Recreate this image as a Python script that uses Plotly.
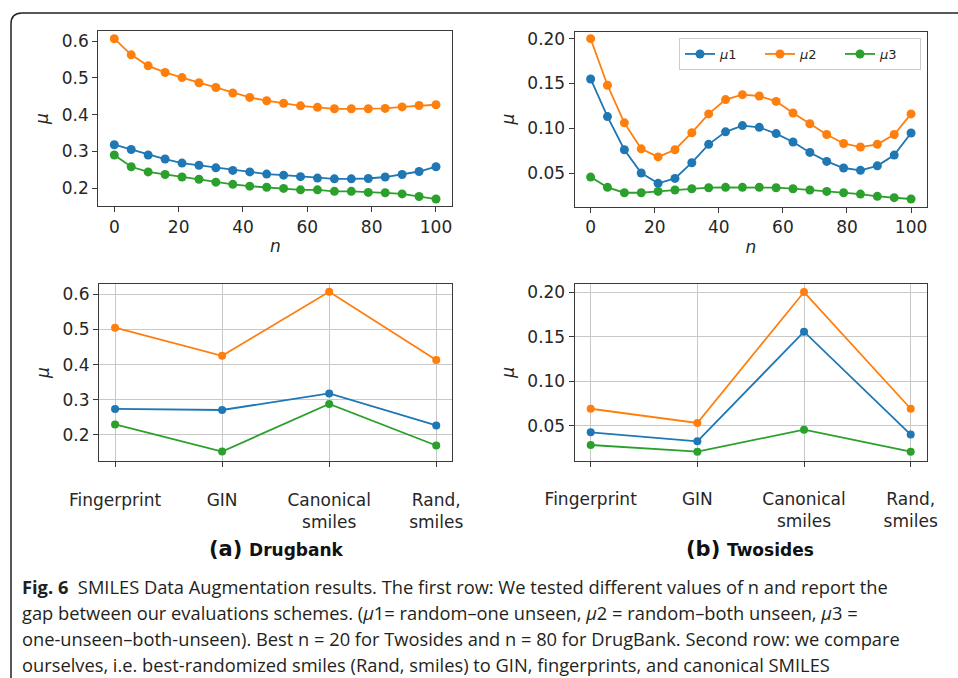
import plotly.graph_objects as go

# ---------------- data ----------------
n_vals = [0, 5.26, 10.53, 15.79, 21.05, 26.32, 31.58, 36.84, 42.11, 47.37,
          52.63, 57.89, 63.16, 68.42, 73.68, 78.95, 84.21, 89.47, 94.74, 100]

db_mu1 = [0.318, 0.305, 0.290, 0.279, 0.268, 0.262, 0.255, 0.248, 0.244, 0.238,
          0.235, 0.231, 0.227, 0.225, 0.225, 0.226, 0.230, 0.237, 0.245, 0.258]
db_mu2 = [0.607, 0.563, 0.533, 0.515, 0.501, 0.487, 0.474, 0.459, 0.447, 0.438,
          0.431, 0.424, 0.420, 0.416, 0.416, 0.416, 0.417, 0.421, 0.425, 0.427]
db_mu3 = [0.290, 0.258, 0.244, 0.237, 0.230, 0.224, 0.216, 0.210, 0.205, 0.202,
          0.199, 0.195, 0.195, 0.191, 0.191, 0.188, 0.187, 0.184, 0.177, 0.170]

tw_mu1 = [0.155, 0.113, 0.076, 0.050, 0.0385, 0.044, 0.0615, 0.082, 0.096, 0.103,
          0.101, 0.094, 0.0846, 0.073, 0.063, 0.0556, 0.053, 0.058, 0.070, 0.0947]
tw_mu2 = [0.200, 0.148, 0.106, 0.077, 0.068, 0.076, 0.095, 0.116, 0.132, 0.1375,
          0.136, 0.130, 0.117, 0.105, 0.093, 0.083, 0.079, 0.082, 0.093, 0.116]
tw_mu3 = [0.0455, 0.034, 0.028, 0.028, 0.0295, 0.031, 0.0325, 0.0336, 0.034, 0.034,
          0.034, 0.0336, 0.0325, 0.031, 0.0295, 0.028, 0.0265, 0.024, 0.0225, 0.021]

methods = ["Fingerprint", "GIN", "Canonical<br>smiles", "Rand,<br>smiles"]
db_cmp_mu1 = [0.274, 0.271, 0.318, 0.227]
db_cmp_mu2 = [0.505, 0.425, 0.607, 0.413]
db_cmp_mu3 = [0.230, 0.153, 0.288, 0.170]
tw_cmp_mu1 = [0.0425, 0.0324, 0.1555, 0.040]
tw_cmp_mu2 = [0.069, 0.053, 0.200, 0.069]
tw_cmp_mu3 = [0.0283, 0.0208, 0.0455, 0.0208]

series_names = ["<i>μ</i>1", "<i>μ</i>2", "<i>μ</i>3"]
colors = ["#1f77b4", "#ff7f0e", "#2ca02c"]

caption_lines = [
    "<b>Fig. 6</b>  SMILES Data Augmentation results. The first row: We tested different values of n and report the",
    "gap between our evaluations schemes. (<i>μ</i>1= random–one unseen, <i>μ</i>2 = random–both unseen, <i>μ</i>3 =",
    "one-unseen–both-unseen). Best n = 20 for Twosides and n = 80 for DrugBank. Second row: we compare",
    "ourselves, i.e. best-randomized smiles (Rand, smiles) to GIN, fingerprints, and canonical SMILES",
]

# ---------------- figure ----------------
W, H = 958, 678
fig = go.Figure()

def px_x(p):
    return p / W

def px_y(p):
    return 1 - p / H

panels = [
    ("x", "y", n_vals, [db_mu1, db_mu2, db_mu3], False, 9),
    ("x2", "y2", n_vals, [tw_mu1, tw_mu2, tw_mu3], True, 9),
    ("x3", "y3", methods, [db_cmp_mu1, db_cmp_mu2, db_cmp_mu3], False, 8),
    ("x4", "y4", methods, [tw_cmp_mu1, tw_cmp_mu2, tw_cmp_mu3], False, 8),
]
for xa, ya, xs, ys_list, legend, msize in panels:
    for i, ys in enumerate(ys_list):
        fig.add_trace(go.Scatter(
            x=xs, y=ys, xaxis=xa, yaxis=ya, mode="lines+markers",
            name=series_names[i], showlegend=legend,
            line=dict(color=colors[i], width=1.8),
            marker=dict(color=colors[i], size=msize),
        ))

tickfont = dict(family="DejaVu Sans", size=17, color="#262626")
titlefont = dict(family="DejaVu Sans", size=17, color="#262626")
axis_common = dict(
    showline=True, mirror=True, linecolor="#3a3a3a", linewidth=1.2,
    ticks="outside", ticklen=5, tickwidth=1, tickcolor="#3a3a3a",
    tickfont=tickfont, zeroline=False, automargin=False,
)

fig.update_layout(
    template="none",
    xaxis=dict(domain=[px_x(98.3), px_x(452.3)], range=[-4.97, 105.07],
               tickvals=[0, 20, 40, 60, 80, 100], showgrid=False, anchor="y",
               title=dict(text="<i>n</i>", font=titlefont, standoff=4),
               **axis_common),
    yaxis=dict(domain=[px_y(206), px_y(31)], range=[0.151, 0.628],
               tickvals=[0.2, 0.3, 0.4, 0.5, 0.6], tickformat=".1f", showgrid=False, anchor="x",
               title=dict(text="<i>μ</i>", font=titlefont, standoff=8),
               **axis_common),
    xaxis2=dict(domain=[px_x(574.7), px_x(927.3)], range=[-4.97, 105.07],
                tickvals=[0, 20, 40, 60, 80, 100], showgrid=False, anchor="y2",
                title=dict(text="<i>n</i>", font=titlefont, standoff=4),
                **axis_common),
    yaxis2=dict(domain=[px_y(206.7), px_y(31.7)], range=[0.0124, 0.2078],
                tickvals=[0.05, 0.10, 0.15, 0.20], tickformat=".2f", showgrid=False, anchor="x2",
                title=dict(text="<i>μ</i>", font=titlefont, standoff=8),
                **axis_common),
    xaxis3=dict(domain=[px_x(99), px_x(452.3)], range=[-0.15, 3.15], type="category",
                showgrid=True, gridcolor="#c8c8c8", gridwidth=1, anchor="y3",
                ticklabelstandoff=18, **axis_common),
    yaxis3=dict(domain=[px_y(461), px_y(284)], range=[0.126, 0.629],
                tickvals=[0.2, 0.3, 0.4, 0.5, 0.6], tickformat=".1f",
                showgrid=True, gridcolor="#c8c8c8", gridwidth=1, anchor="x3",
                title=dict(text="<i>μ</i>", font=titlefont, standoff=8),
                **axis_common),
    xaxis4=dict(domain=[px_x(574.7), px_x(926.7)], range=[-0.15, 3.15], type="category",
                showgrid=True, gridcolor="#c8c8c8", gridwidth=1, anchor="y4",
                ticklabelstandoff=18, **axis_common),
    yaxis4=dict(domain=[px_y(460.7), px_y(284)], range=[0.0107, 0.209],
                tickvals=[0.05, 0.10, 0.15, 0.20], tickformat=".2f",
                showgrid=True, gridcolor="#c8c8c8", gridwidth=1, anchor="x4",
                title=dict(text="<i>μ</i>", font=titlefont, standoff=8),
                **axis_common),
)

fig.update_layout(
    width=W, height=H, margin=dict(l=0, r=0, t=0, b=0, autoexpand=False),
    paper_bgcolor="white", plot_bgcolor="white",
    legend=dict(orientation="h", x=px_x(921), xanchor="right", y=px_y(38), yanchor="top",
                bgcolor="white", bordercolor="#cccccc", borderwidth=1,
                font=dict(family="DejaVu Sans", size=13, color="#262626"),
                entrywidth=35, tracegroupgap=0),
)

# sub-captions
fig.add_annotation(xref="paper", yref="paper", x=px_x(276), y=px_y(549),
                   xanchor="center", yanchor="middle", showarrow=False,
                   text="<b>(a)</b> <b><span style='font-size:17px'>Drugbank</span></b>",
                   font=dict(family="DejaVu Sans", size=21, color="#111111"))
fig.add_annotation(xref="paper", yref="paper", x=px_x(750), y=px_y(549),
                   xanchor="center", yanchor="middle", showarrow=False,
                   text="<b>(b)</b> <b><span style='font-size:17px'>Twosides</span></b>",
                   font=dict(family="DejaVu Sans", size=21, color="#111111"))

# caption
cap_y = [586, 612, 638, 664]
for line, yy in zip(caption_lines, cap_y):
    fig.add_annotation(xref="paper", yref="paper", x=px_x(20), y=px_y(yy),
                       xanchor="left", yanchor="middle", showarrow=False,
                       text=line, font=dict(family="Open Sans", size=18.3, color="#231f20"))

# frame (rounded corner at top-left)
fig.add_shape(type="path", xref="paper", yref="paper",
              path=f"M {px_x(11)} {px_y(700)} L {px_x(11)} {px_y(24)} "
                   f"Q {px_x(11)} {px_y(13)} {px_x(22)} {px_y(13)} L {px_x(970)} {px_y(13)}",
              line=dict(color="#222222", width=1.5))

fig.write_html("out.html")
